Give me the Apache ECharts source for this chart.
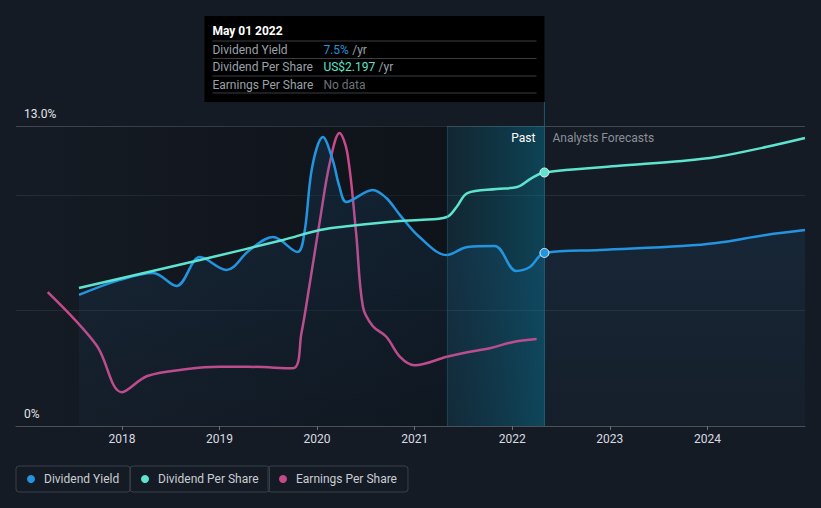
<!DOCTYPE html>
<html><head><meta charset="utf-8">
<script src="https://cdn.jsdelivr.net/npm/echarts@6/dist/echarts.min.js"></script>
<style>html,body{margin:0;padding:0;background:#151b24;}#c{width:821px;height:508px;}</style>
</head><body><div id="c"></div>
<script>
// ---- data (decimal years) ----
const yieldDates  = [2017.56, 2017.98, 2018.32, 2018.56, 2018.80, 2019.07, 2019.31, 2019.55, 2019.80, 2019.87, 2019.95, 2020.06, 2020.16, 2020.23, 2020.30, 2020.57, 2020.71, 2020.85, 2021.05, 2021.33, 2021.54, 2021.82, 2022.04, 2022.18, 2022.33, 2022.90, 2023.74, 2024.09, 2024.60, 2025.00];
const yieldValues = [5.68, 6.33, 6.63, 6.07, 7.32, 6.76, 7.63, 8.19, 7.54, 8.36, 11.22, 12.52, 11.53, 10.36, 9.71, 10.23, 9.88, 9.14, 8.19, 7.41, 7.76, 7.80, 6.72, 6.89, 7.50, 7.63, 7.80, 7.93, 8.28, 8.49];

const dpsDates  = [2017.56, 2018.80, 2019.65, 2020.03, 2020.33, 2020.85, 2021.05, 2021.33, 2021.43, 2021.54, 2021.84, 2022.05, 2022.20, 2022.33, 2023.07, 2023.74, 2024.09, 2024.60, 2025.00];
const dpsValues = [1.196, 1.439, 1.612, 1.699, 1.733, 1.777, 1.785, 1.811, 1.898, 2.019, 2.054, 2.071, 2.149, 2.197, 2.253, 2.297, 2.331, 2.418, 2.496];

const epsDates  = [2017.24, 2017.74, 2018.00, 2018.26, 2018.67, 2019.00, 2019.28, 2019.75, 2019.84, 2019.92, 2020.03, 2020.13, 2020.23, 2020.31, 2020.40, 2020.47, 2020.57, 2020.71, 2020.85, 2021.00, 2021.33, 2021.54, 2021.77, 2022.00, 2022.25];
const epsValues = [1.74, 1.05, 0.44, 0.65, 0.74, 0.77, 0.77, 0.75, 1.21, 1.81, 2.68, 3.42, 3.81, 3.55, 2.51, 1.55, 1.30, 1.16, 0.90, 0.79, 0.90, 0.96, 1.01, 1.09, 1.13];

const yearTicks = [2018, 2019, 2020, 2021, 2022, 2023, 2024];
const xMin = 2016.915, xMax = 2025.0;
const pastStart = 2021.33, pastEnd = 2022.33;
const tooltipDate = 'May 01 2022';
const tooltipYield = '7.5%';
const tooltipDps = 'US$2.197';

const C_YIELD = '#2394df', C_DPS = '#5ee3cf', C_EPS = '#c8498a';

const pts = (ds, vs) => ds.map((d, i) => [d, vs[i]]);
const markAt = (ds, vs, x, color) => {
  const i = ds.indexOf(x);
  return {
    symbol: 'circle', symbolSize: 9, silent: true, label: {show: false},
    itemStyle: {color: color, borderColor: '#e6f2f6', borderWidth: 1},
    data: [{coord: [ds[i], vs[i]]}]
  };
};

const chart = echarts.init(document.getElementById('c'), null, {renderer: 'svg'});
const legendBase = {
  top: 466, icon: 'circle', itemWidth: 8, itemHeight: 8,
  padding: [7, 11, 7, 11], borderColor: '#3a4049', borderWidth: 1, borderRadius: 3,
  textStyle: {color: '#c9cdd3', fontSize: 12, padding: [0, 0, 0, 4]},
  selectedMode: false
};
chart.setOption({
  animation: false,
  backgroundColor: '#151b24',
  textStyle: {fontFamily: 'Roboto'},
  grid: {left: 16, right: 16, top: 126, bottom: 82},
  legend: [
    Object.assign({}, legendBase, {left: 16, data: ['Dividend Yield']}),
    Object.assign({}, legendBase, {left: 130, data: ['Dividend Per Share']}),
    Object.assign({}, legendBase, {left: 268, data: ['Earnings Per Share']})
  ],
  xAxis: {
    type: 'value', min: xMin, max: xMax,
    splitLine: {show: false},
    axisLine: {lineStyle: {color: '#4b515a'}},
    axisTick: {customValues: yearTicks, length: 4, lineStyle: {color: '#6b7078'}},
    axisLabel: {customValues: yearTicks, formatter: v => String(Math.round(v)), color: '#d8dce2', fontSize: 12, margin: 7}
  },
  yAxis: [
    {type: 'value', min: 0, max: 13, interval: 5,
     axisLine: {show: false}, axisTick: {show: false},
     axisLabel: {inside: true, verticalAlign: 'bottom', margin: 8, color: '#e2e4e8', fontSize: 12, padding: [0, 0, 6, 0],
       formatter: v => v === 0 ? '0%' : (v === 13 ? '13.0%' : '')},
     splitLine: {lineStyle: {color: ['#4b515a', '#262d37', '#262d37', '#41464f'], width: 1}}},
    {type: 'value', min: 0, max: 2.6, show: false},
    {type: 'value', min: 0, max: 3.9, show: false}
  ],
  series: [
    {
      name: 'Dividend Yield', type: 'line', yAxisIndex: 0, smooth: 0.35, symbol: 'none',
      color: C_YIELD, lineStyle: {width: 2.5, color: C_YIELD}, z: 3,
      areaStyle: {color: new echarts.graphic.LinearGradient(0, 0, 0, 1, [
        {offset: 0, color: 'rgba(35,120,190,0.22)'}, {offset: 1, color: 'rgba(35,120,190,0.06)'}])},
      data: pts(yieldDates, yieldValues),
      markPoint: markAt(yieldDates, yieldValues, pastEnd, C_YIELD),
      markArea: {
        silent: true,
        data: [
          [{xAxis: xMin, itemStyle: {color: new echarts.graphic.LinearGradient(0, 0, 1, 0, [
              {offset: 0, color: 'rgba(6,8,12,0)'}, {offset: 1, color: 'rgba(6,8,12,0.45)'}])}}, {xAxis: pastStart}],
          [{xAxis: pastStart, itemStyle: {color: new echarts.graphic.LinearGradient(0, 0, 1, 0, [
              {offset: 0, color: 'rgba(0,110,140,0.14)'}, {offset: 1, color: 'rgba(0,140,175,0.36)'}])}}, {xAxis: pastEnd}]
        ]
      },
      markLine: {
        silent: true, symbol: 'none', label: {show: false},
        data: [
          {xAxis: pastStart, lineStyle: {color: 'rgba(40,110,130,0.35)', width: 1, type: 'solid'}},
          {xAxis: pastEnd, lineStyle: {color: '#1d5a70', width: 1, type: 'solid'}}
        ]
      }
    },
    {
      name: 'Dividend Per Share', type: 'line', yAxisIndex: 1, smooth: 0.35, symbol: 'none',
      color: C_DPS, lineStyle: {width: 2.5, color: C_DPS}, z: 4,
      data: pts(dpsDates, dpsValues),
      markPoint: markAt(dpsDates, dpsValues, pastEnd, C_DPS)
    },
    {
      name: 'Earnings Per Share', type: 'line', yAxisIndex: 2, smooth: 0.35, symbol: 'none',
      color: C_EPS, lineStyle: {width: 2.5, color: C_EPS}, z: 2,
      data: pts(epsDates, epsValues)
    }
  ]
});

// tooltip-like annotation anchored on the past/forecast boundary
const px = chart.convertToPixel({xAxisIndex: 0}, pastEnd);
const topY = chart.convertToPixel({yAxisIndex: 0}, 13);
const boxW = 340, boxH = 86, boxTop = 16;
const bx = px - boxW;
const F = '12px Roboto';
const txt = (t, x, y, fill, font) => ({type: 'text', x: x, y: y, z: 11,
  style: {text: t, fill: fill, font: font || F, verticalAlign: 'middle'}});
const sep = y => ({type: 'line', z: 11, shape: {x1: bx + 8, y1: y, x2: px - 8, y2: y}, style: {stroke: '#3a3d42', lineWidth: 1}});
const valX = bx + 119;
chart.setOption({
  graphic: [
    {type: 'rect', z: 10, shape: {x: bx, y: boxTop, width: boxW, height: boxH}, style: {fill: '#000000'}},
    txt(tooltipDate, bx + 8, 31, '#ffffff', 'bold 12px Roboto'),
    sep(41), sep(58.5), sep(76), sep(93),
    txt('Dividend Yield', bx + 8, 49.5, '#9aa0a8'),
    txt('Dividend Per Share', bx + 8, 67, '#9aa0a8'),
    txt('Earnings Per Share', bx + 8, 84.5, '#9aa0a8'),
    {type: 'text', x: valX, y: 49.5, z: 11, style: {verticalAlign: 'middle', text: '{a|' + tooltipYield + '} {b|/yr}',
      rich: {a: {fill: C_YIELD, fontSize: 12, fontFamily: 'Roboto'}, b: {fill: '#9aa0a8', fontSize: 12, fontFamily: 'Roboto'}}}},
    {type: 'text', x: valX, y: 67, z: 11, style: {verticalAlign: 'middle', text: '{a|' + tooltipDps + '} {b|/yr}',
      rich: {a: {fill: C_DPS, fontSize: 12, fontFamily: 'Roboto'}, b: {fill: '#9aa0a8', fontSize: 12, fontFamily: 'Roboto'}}}},
    txt('No data', valX, 84.5, '#6c7178'),
    {type: 'line', z: 9, shape: {x1: px, y1: boxTop + boxH, x2: px, y2: topY}, style: {stroke: '#1d5a70', lineWidth: 1}},
    {type: 'text', z: 11, x: px - 9, y: topY + 12, style: {text: 'Past', fill: '#ffffff', font: F, align: 'right', verticalAlign: 'middle'}},
    {type: 'text', z: 11, x: px + 8, y: topY + 12, style: {text: 'Analysts Forecasts', fill: '#8b9098', font: F, verticalAlign: 'middle'}}
  ]
});
</script>
</body></html>
